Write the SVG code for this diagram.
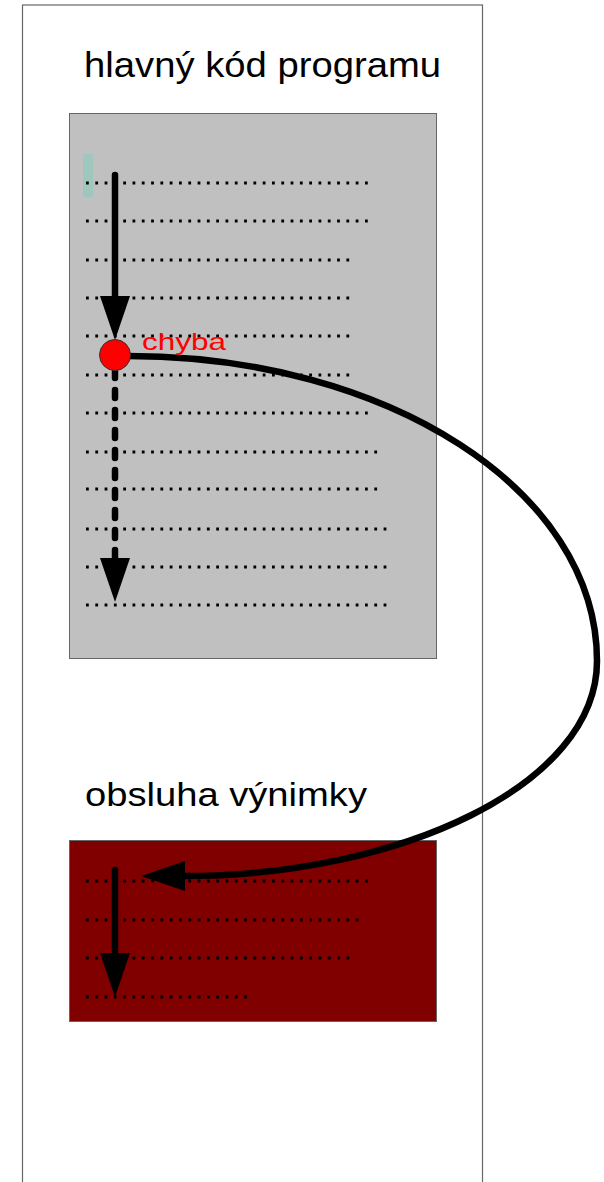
<svg xmlns="http://www.w3.org/2000/svg" width="604" height="1182" viewBox="0 0 604 1182">
  <style>
    .label { font-family: "Liberation Sans", Arial, sans-serif; fill: #000; }
    .dots { stroke: #000; stroke-width: 2.8; stroke-dasharray: 2.8 6.5; fill: none; }
    .flow { stroke: #000; stroke-width: 6.5; fill: none; stroke-linecap: round; }
    .box { stroke: #666; stroke-width: 1; }
  </style>
  <defs>
    <marker id="arrow" markerUnits="userSpaceOnUse" markerWidth="44" markerHeight="30" viewBox="0 0 44 30" refX="1" refY="15" orient="auto">
      <path d="M0,0 L44,15 L0,30 Z" fill="#000"/>
    </marker>
  </defs>
  <rect width="604" height="1182" fill="#fff"/>

  <g id="frame">
    <rect x="22.5" y="5" width="460" height="1200" fill="#fff" stroke="#666" stroke-width="1.2"/>
  </g>

  <g id="main-code">
    <text class="label" x="84" y="77" font-size="35" textLength="357" lengthAdjust="spacingAndGlyphs">hlavný kód programu</text>
    <rect class="box" x="69.5" y="113.5" width="367" height="545" fill="#c0c0c0"/>
    <rect x="83" y="154" width="10" height="43" fill="#9ec8bd"/>
    <path class="dots" d="M86,183 H369 M86,221 H369 M86,260 H351 M86,298 H351 M86,336 H351 M86,375 H351 M86,413 H369 M86,452 H378 M86,489 H378 M86,529 H387 M86,567 H387 M86,605 H387"/>
  </g>

  <g id="handler">
    <text class="label" x="85" y="806" font-size="34" textLength="282" lengthAdjust="spacingAndGlyphs">obsluha výnimky</text>
    <rect class="box" x="69.5" y="840.5" width="367" height="181" fill="#800000"/>
    <path class="dots" d="M86,881 H369 M86,920 H360 M86,958 H351 M86,997 H253"/>
  </g>

  <g id="connectors">
    <path class="flow" d="M115,175 V297" marker-end="url(#arrow)"/>
    <path class="flow" d="M115,370 V559" stroke-dasharray="8 12" marker-end="url(#arrow)"/>
    <path class="flow" d="M115,870 V954" marker-end="url(#arrow)"/>
    <path class="flow" d="M128,356 C387,356 597,490 597,661 C597,785 400,876 184,876" stroke-linecap="butt" marker-end="url(#arrow)"/>
  </g>

  <g id="error">
    <circle cx="115" cy="355" r="15.5" fill="#ff0000" stroke="#333" stroke-width="1"/>
    <text x="142" y="350" font-family="Liberation Sans, Arial, sans-serif" font-size="24" fill="#ff0000" textLength="84" lengthAdjust="spacingAndGlyphs">chyba</text>
  </g>
</svg>
